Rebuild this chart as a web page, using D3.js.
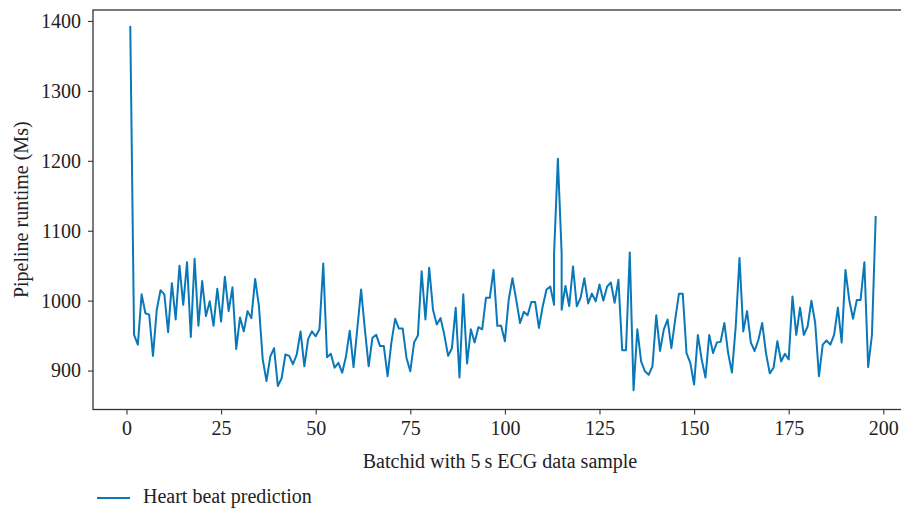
<!DOCTYPE html>
<html>
<head>
<meta charset="utf-8">
<script src="https://cdn.jsdelivr.net/npm/d3@7"></script>
<style>
  html, body { margin: 0; padding: 0; background: #fff; }
  svg { display: block; }
  text { font-family: "Liberation Serif", "DejaVu Serif", serif; fill: #222; }
</style>
</head>
<body>
<svg id="chart" width="901" height="508"></svg>
<script>
// Batch ids (x) – a few batches appear twice in the record
const batchIds = [
  1,2,3,4,5,6,7,8,9,10,11,12,13,14,15,16,17,18,19,20,
  21,22,23,24,25,26,27,28,29,30,31,32,33,34,35,36,37,38,39,40,
  41,42,43,44,45,46,47,48,49,50,51,52,53,54,55,56,57,58,59,60,
  61,62,63,64,65,66,67,68,69,70,71,72,73,74,75,76,77,78,79,80,
  81,82,83,84,85,86,87,88,89,90,91,92,93,94,95,96,97,98,99,100,
  101,102,103,104,105,106,107,108,109,110,111,112,113,113,114,115,115,116,117,118,119,120,
  121,122,123,124,125,126,127,128,129,130,131,132,133,134,135,136,137,138,139,140,
  141,142,143,144,145,146,147,148,149,150,151,152,153,154,155,156,157,158,159,160,
  161,162,163,164,165,166,167,168,169,170,171,172,173,174,175,176,177,178,179,180,
  181,182,183,184,185,186,187,188,189,190,191,192,193,194,195,196,197,198
];
// Pipeline runtime (ms) for "Heart beat prediction"
const runtimes = [
  1393,951,937,1009,982,980,921,987,1015,1009,955,1025,973,1050,994,1055,948,1060,964,1028,
  978,999,964,1017,970,1034,985,1019,931,976,956,985,975,1031,992,916,885,920,932,878,
  889,923,921,909,923,956,906,945,956,949,959,1053,919,924,904,911,897,920,957,905,
  960,1016,959,906,947,951,935,935,892,940,974,960,960,918,899,940,950,1042,973,1047,
  987,966,975,951,921,932,990,890,1009,910,959,940,962,959,1004,1004,1044,964,964,942,
  1001,1032,1001,968,984,979,998,998,961,992,1016,1020,994,1067,1203,1067,987,1021,992,1049,992,1004,
  1032,996,1010,999,1023,1000,1020,1026,997,1030,929,929,1069,872,959,913,899,894,906,979,
  928,959,973,932,973,1010,1010,925,911,880,951,916,890,951,925,940,941,968,925,897,
  963,1061,956,985,940,928,944,968,925,896,904,942,913,924,916,1006,951,990,951,963,
  1000,968,892,937,943,937,951,990,940,1044,1001,974,1001,1001,1055,905,951,1121
];
const xTicks = [0, 25, 50, 75, 100, 125, 150, 175, 200];
const yTicks = [900, 1000, 1100, 1200, 1300, 1400];
const seriesName = "Heart beat prediction";
const xLabel = "Batchid with 5\u2009s ECG data sample";
const yLabel = "Pipeline runtime (Ms)";

const data = batchIds.map((b, i) => ({ x: b, y: runtimes[i] }));

const svg = d3.select("#chart");
const L = 93, R = 913, T = 10, B = 409.5;
const color = "#0a78b8";

const xPad = (d3.max(batchIds) - d3.min(batchIds)) * 0.05;
const x = d3.scaleLinear()
  .domain([d3.min(batchIds) - xPad, d3.max(batchIds) + xPad])
  .range([L, R]);
const y = d3.scaleLinear()
  .domain([844.3, 1415.7])
  .range([B, T]);

// line
const line = d3.line().x(d => x(d.x)).y(d => y(d.y));
svg.append("path")
  .datum(data)
  .attr("d", line)
  .attr("fill", "none")
  .attr("stroke", color)
  .attr("stroke-width", 2)
  .attr("stroke-linejoin", "round");

// axes
const xAxis = svg.append("g")
  .attr("transform", `translate(0,${B})`)
  .call(d3.axisBottom(x).tickValues(xTicks).tickFormat(d3.format("d")).tickSize(5).tickPadding(6));
const yAxis = svg.append("g")
  .attr("transform", `translate(${L},0)`)
  .call(d3.axisLeft(y).tickValues(yTicks).tickFormat(d3.format("d")).tickSize(5).tickPadding(7));
[xAxis, yAxis].forEach(g => {
  g.select(".domain").remove();
  g.selectAll(".tick line").attr("stroke", "#333").attr("stroke-width", 1.1);
  g.selectAll(".tick text")
    .style("font-family", '"Liberation Serif", serif')
    .style("font-size", "20px")
    .attr("fill", "#222");
});

// spines
svg.append("rect")
  .attr("x", L).attr("y", T)
  .attr("width", R - L).attr("height", B - T)
  .attr("fill", "none")
  .attr("stroke", "#333")
  .attr("stroke-width", 1.3);

// axis labels
svg.append("text")
  .attr("x", (L + R) / 2 - 3)
  .attr("y", 468)
  .attr("text-anchor", "middle")
  .style("font-size", "20px")
  .text(xLabel);
svg.append("text")
  .attr("transform", `translate(28,${(T + B) / 2}) rotate(-90)`)
  .attr("text-anchor", "middle")
  .style("font-size", "20px")
  .text(yLabel);

// legend
svg.append("line")
  .attr("x1", 97).attr("x2", 130)
  .attr("y1", 498).attr("y2", 498)
  .attr("stroke", color)
  .attr("stroke-width", 2);
svg.append("text")
  .attr("x", 143)
  .attr("y", 503)
  .style("font-size", "20px")
  .text(seriesName);
</script>
</body>
</html>
